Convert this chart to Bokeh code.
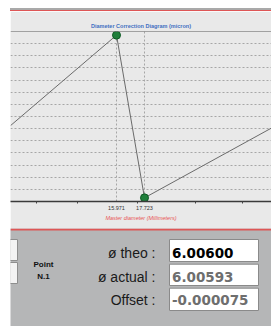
from bokeh.plotting import figure
from bokeh.layouts import column
from bokeh.models import (Range1d, FixedTicker, SingleIntervalTicker, Span, Div)
from bokeh.core.properties import value
from bokeh.embed import file_html
from bokeh.resources import INLINE

# ---------------- data ----------------
master_diam = [15.971, 17.723]          # calibration points (mm)
correction = [13.7, 0.3]                 # correction (diagram units)
curve_x = [9.34, 15.971, 17.723, 25.67]  # correction curve through the points
curve_y = [6.25, 13.7, 0.3, 6.05]
major_ticks = [15.971, 17.723]
tick_labels = ["15.971", "17.723"]
minor_ticks = [10.965, 13.531, 17.285, 20.914, 23.855]

point_label = ["Point", "N.1"]
field_names = ["ø theo :", "ø actual :", "Offset :"]
field_values = ["6.00600", "6.00593", "-0.000075"]

# ---------------- styles ----------------
BG = "#e9e9e9"
PANEL = "#b5b6b7"
RED = "#de5656"
W = 261

header_gray = Div(text="", width=W, height=2, margin=0,
                  styles={"background-color": "#a9a9a9"})
header_red = Div(text="", width=W, height=1, margin=0,
                 styles={"background-color": RED})

# ---------------- chart ----------------
p = figure(width=W, height=217, output_backend="svg", toolbar_location=None,
           x_range=Range1d(9.338, 25.67), y_range=Range1d(0, 14),
           min_border_left=0, min_border_right=0, min_border_top=20,
           min_border_bottom=27)
p.background_fill_color = BG
p.border_fill_color = BG
p.outline_line_color = None

p.title.text = "Diameter Correction Diagram (micron)"
p.title.align = "center"
p.title.text_font = "Liberation Sans"
p.title.text_font_size = "5.5px"
p.title.text_font_style = "bold"
p.title.text_color = "#3f6fc2"
p.title.standoff = 5

p.yaxis.visible = False
p.ygrid.ticker = SingleIntervalTicker(interval=1)
p.ygrid.grid_line_color = "#a6a6a6"
p.ygrid.grid_line_dash = "2 2"
p.xgrid.grid_line_color = "#a6a6a6"
p.xgrid.grid_line_dash = "2 2"

xa = p.xaxis[0]
xa.ticker = FixedTicker(ticks=major_ticks, minor_ticks=minor_ticks)
xa.major_label_overrides = dict(zip(major_ticks, tick_labels))
xa.axis_line_color = "#3a3a3a"
xa.axis_line_width = 1.5
xa.major_tick_out = 0
xa.major_tick_in = 0
xa.minor_tick_out = 2
xa.minor_tick_in = 0
xa.minor_tick_line_color = "#444444"
xa.major_label_standoff = 2
xa.major_label_text_font = "Liberation Sans"
xa.major_label_text_font_size = "5.5px"
xa.major_label_text_color = "#333333"
xa.axis_label = "Master diameter (Millimeters)"
xa.axis_label_text_font = "Liberation Sans"
xa.axis_label_text_font_size = "5.5px"
xa.axis_label_text_font_style = "italic"
xa.axis_label_text_color = "#e85555"
xa.axis_label_standoff = 2

p.add_layout(Span(location=14, dimension="width", line_color="#555555",
                  line_width=1.2))

p.line(curve_x, curve_y, line_color="#6a6a6a", line_width=1)
p.scatter(master_diam, correction, size=8, fill_color="#1f7f3b",
          line_color="#0f5a25", line_width=1)

# ---------------- panel ----------------
H = 98
q = figure(width=W, height=H, output_backend="svg", toolbar_location=None,
           x_range=Range1d(0, W), y_range=Range1d(H, 0),
           min_border=0)
q.background_fill_color = PANEL
q.border_fill_color = PANEL
q.outline_line_color = None
q.xaxis.visible = False
q.yaxis.visible = False
q.grid.visible = False

# red separator
q.quad(left=[0], right=[W], top=[0], bottom=[2], fill_color=RED, line_color=None)
# partially visible buttons
q.quad(left=[-2, -2], right=[7, 7], top=[11, 34], bottom=[32, 55],
       fill_color="#f3f3f3", line_color="#8e8e8e", line_width=1)
# point label
q.text(x=[33, 33], y=[36, 47.5], text=point_label, text_align="center",
       text_baseline="middle", text_font=value("Liberation Sans"),
       text_font_size="8px", text_font_style="bold", text_color="#111111")
# field names
row_y = [24, 48.3, 71.5]
q.text(x=[145] * 3, y=row_y, text=field_names, text_align="right",
       text_baseline="middle", text_font=value("Liberation Sans"),
       text_font_size="14px", text_color="#1a1a1a")
# value boxes
box_top = [11, 35.7, 59.7]
box_bot = [33, 57, 82]
q.quad(left=[159] * 3, right=[248] * 3, top=box_top, bottom=box_bot,
       fill_color="#ffffff", line_color="#8a8a8a", line_width=1)
q.text(x=[161.5] * 3, y=row_y, text=field_values, text_align="left",
       text_baseline="middle", text_font=value("DejaVu Sans"),
       text_font_size="13.5px", text_font_style="bold",
       text_color=["#000000", "#6e6e6e", "#6e6e6e"])

layout = column(header_gray, header_red, p, q, spacing=0, margin=(8, 0, 0, 10))
open("out.html", "w").write(file_html(layout, INLINE))
